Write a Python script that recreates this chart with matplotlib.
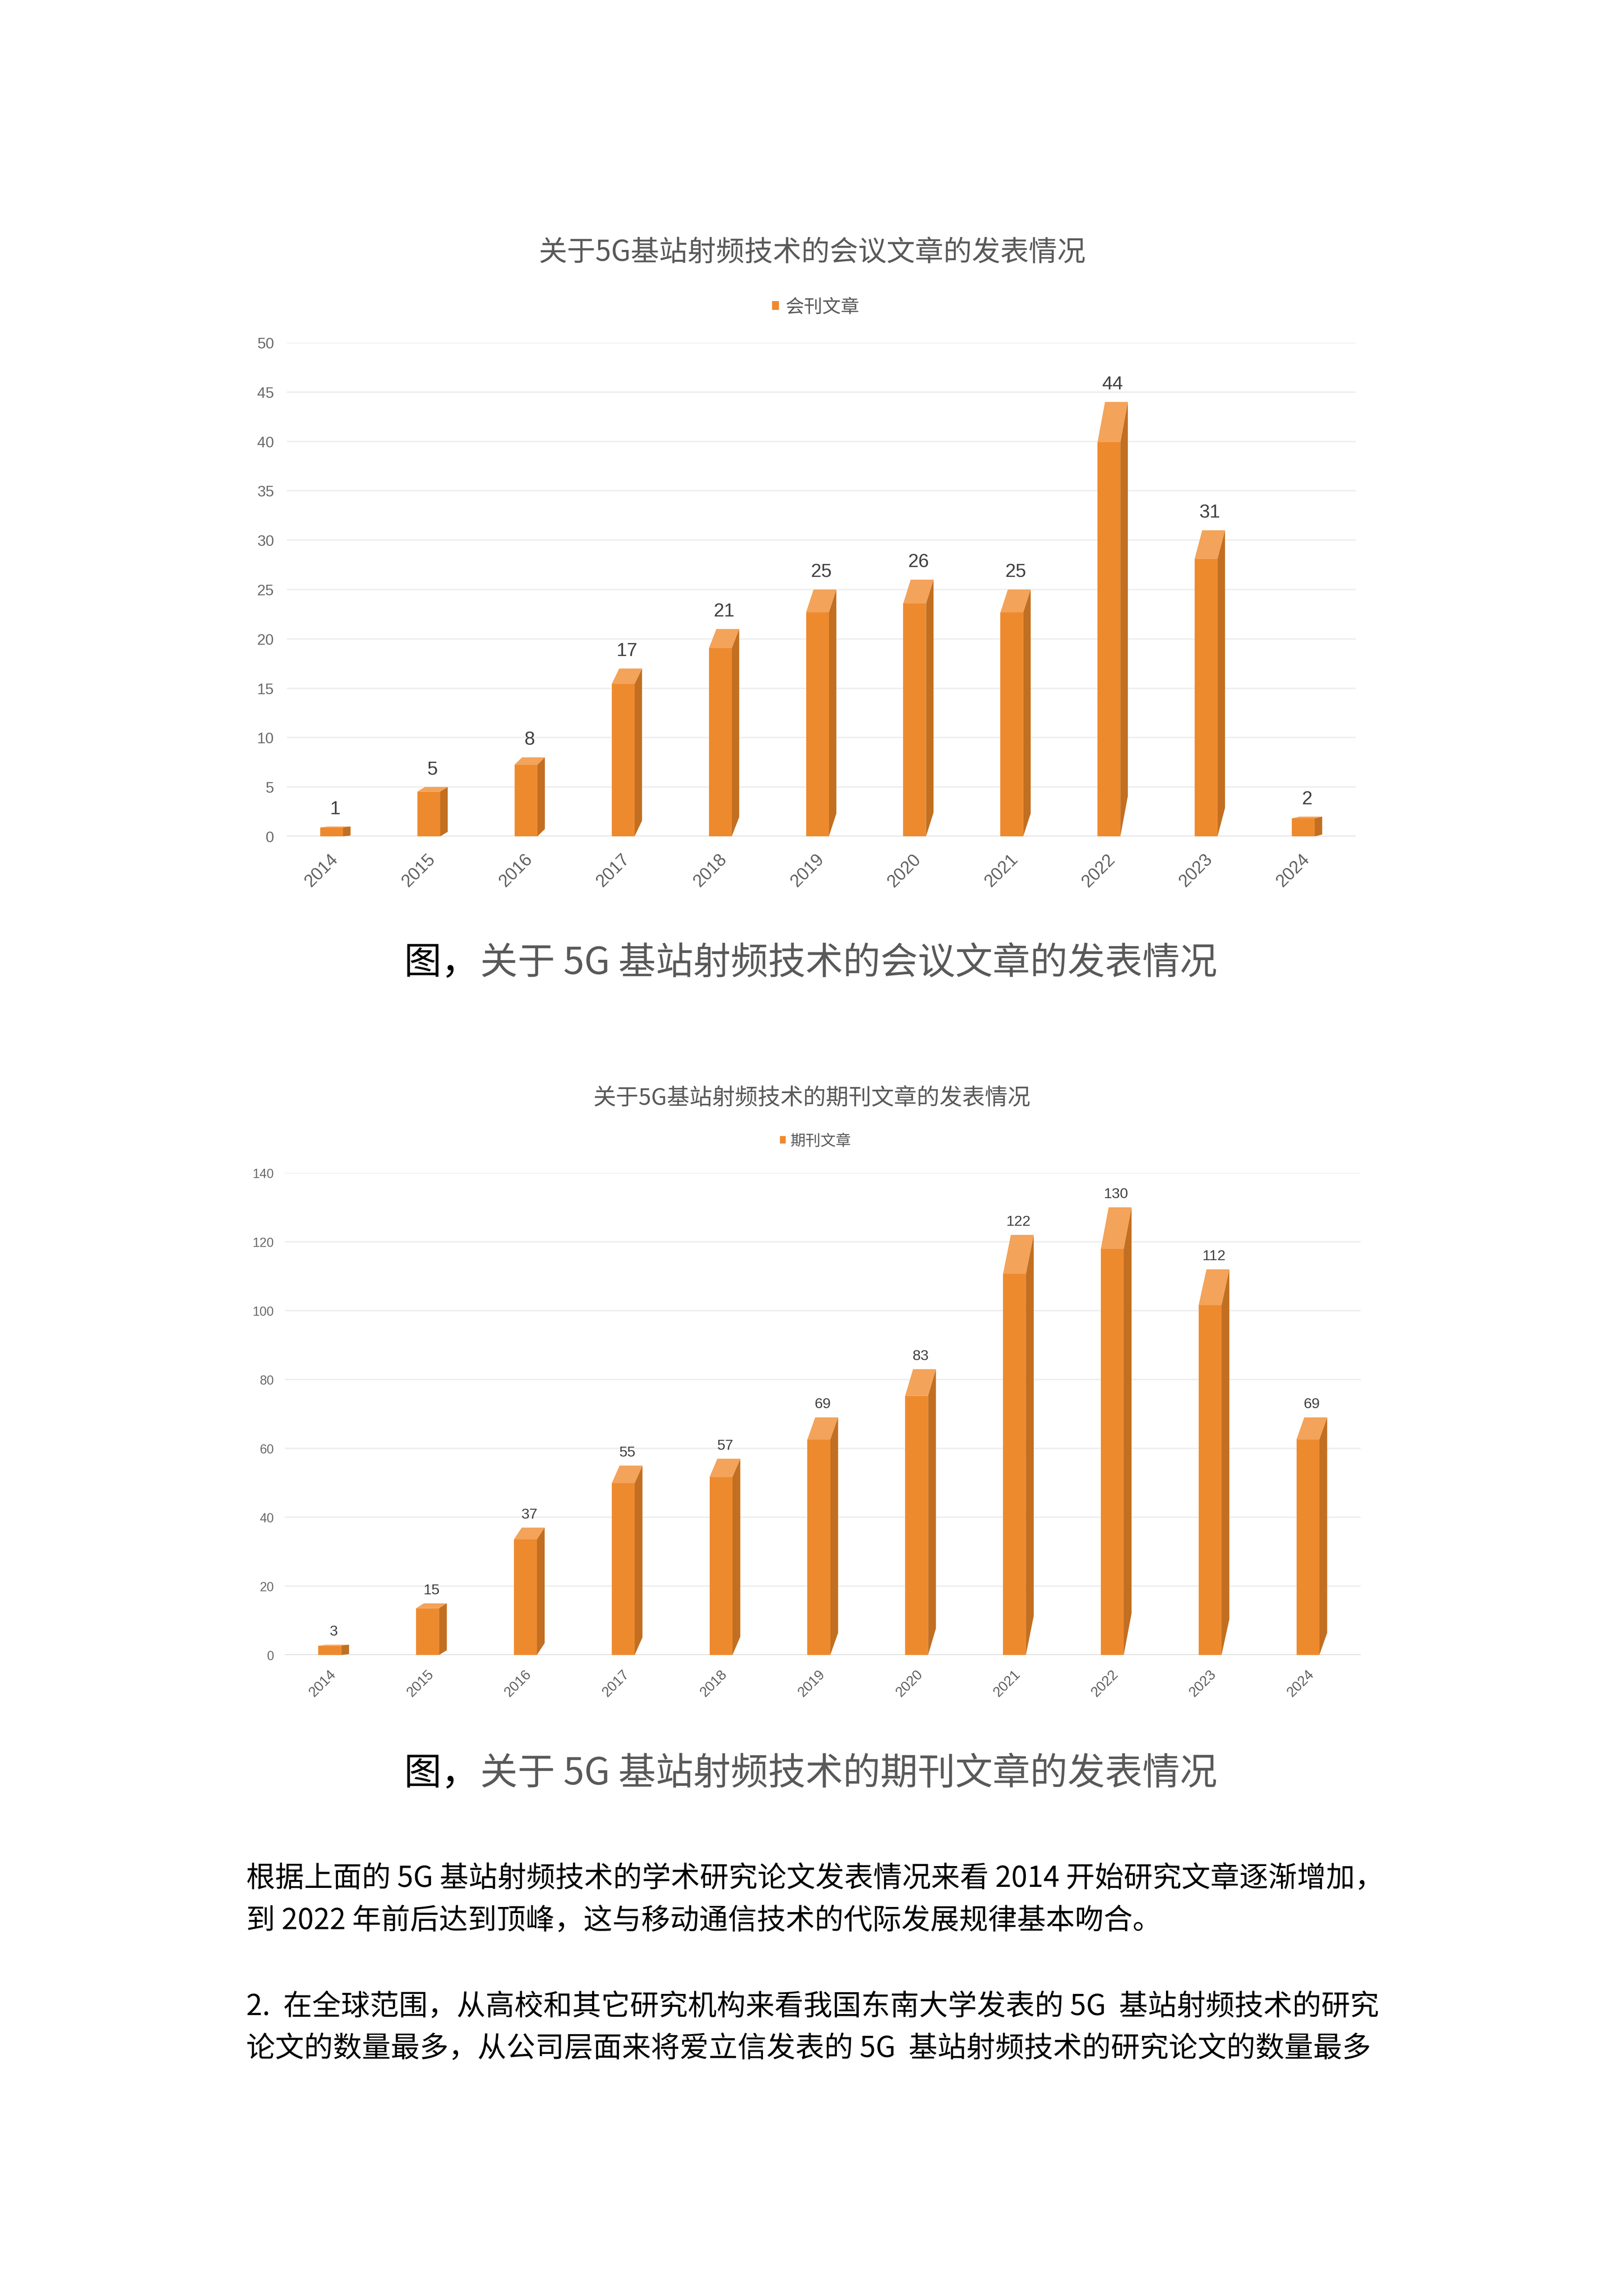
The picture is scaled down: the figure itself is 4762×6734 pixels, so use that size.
import matplotlib
matplotlib.use("Agg")
import matplotlib.pyplot as plt
from matplotlib.patches import Polygon, Rectangle, Patch
import numpy as np

plt.rcParams['font.family'] = ['Noto Sans CJK SC', 'DejaVu Sans']

# data
years = ['2014', '2015', '2016', '2017', '2018', '2019', '2020', '2021', '2022', '2023', '2024']
conf_counts = [1, 5, 8, 17, 21, 25, 26, 25, 44, 31, 2]
journal_counts = [3, 15, 37, 55, 57, 69, 83, 122, 130, 112, 69]

conf_title = '关于5G基站射频技术的会议文章的发表情况'
journal_title = '关于5G基站射频技术的期刊文章的发表情况'
conf_legend = '会刊文章'
journal_legend = '期刊文章'
caption_prefix = '图，'
conf_caption = '关于 5G 基站射频技术的会议文章的发表情况'
journal_caption = '关于 5G 基站射频技术的期刊文章的发表情况'
body_lines = [
    '根据上面的 5G 基站射频技术的学术研究论文发表情况来看 2014 开始研究文章逐渐增加，',
    '到 2022 年前后达到顶峰，这与移动通信技术的代际发展规律基本吻合。',
    '2.  在全球范围，从高校和其它研究机构来看我国东南大学发表的 5G  基站射频技术的研究',
    '论文的数量最多，从公司层面来将爱立信发表的 5G  基站射频技术的研究论文的数量最多',
]

W, H = 4762, 6735
DPI = 100
FRONT = '#EE8A2E'
TOP = '#F3A35A'
SIDE = '#C26F21'
GRID = '#EEEEEE'
BASE = '#D9D9D9'
YTICK = '#6A6A6A'
XTICK = '#5F5F5F'
LABEL = '#404040'
TITLE = '#595959'
NUM_FONT = 'Liberation Sans'

fig = plt.figure(figsize=(W / DPI, H / DPI), dpi=DPI)
fig.patch.set_facecolor('white')


def px_axes(left, right, top, bottom):
    return fig.add_axes([left / W, 1 - bottom / H, (right - left) / W, (bottom - top) / H])


def fy(y):
    return 1 - y / H


def draw_chart(ax, values, ymax, ystep, front_w, side_w, sizes, pads):
    ytick_fs, xtick_fs, val_fs = sizes
    ypad, xpad, vpad = pads
    rise = 0.093  # the back edge of each bar sits higher, as in the 3D look
    for i, v in enumerate(values):
        x0 = i - (front_w + side_w) / 2
        x1 = x0 + front_w
        x2 = x1 + side_w
        yf = v * (1 - rise)
        ax.add_patch(Polygon([(x1, 0), (x1, yf), (x2, v), (x2, v * rise)],
                             closed=True, fc=SIDE, ec='none', zorder=2))
        ax.add_patch(Polygon([(x0, yf), (x1, yf), (x2, v), (x0 + side_w, v)],
                             closed=True, fc=TOP, ec='none', zorder=2))
        ax.add_patch(Rectangle((x0, 0), front_w, yf, fc=FRONT, ec='none', zorder=3))
        ax.annotate(str(v), (i, v), xytext=(0, vpad), textcoords='offset points',
                    ha='center', va='baseline', fontsize=val_fs, color=LABEL,
                    family=NUM_FONT)

    ax.set_xlim(-0.5, len(values) - 0.5)
    ax.set_ylim(0, ymax)
    ticks = np.arange(0, ymax + 1, ystep)
    ax.set_yticks(ticks, labels=[str(t) for t in ticks], fontsize=ytick_fs,
                  color=YTICK, family=NUM_FONT)
    ax.set_xticks(range(len(years)), labels=years, rotation=45, ha='right',
                  va='center', rotation_mode='anchor', fontsize=xtick_fs,
                  color=XTICK, family=NUM_FONT)
    ax.tick_params(axis='y', length=0, pad=ypad)
    ax.tick_params(axis='x', length=0, pad=xpad)
    ax.grid(axis='y', color=GRID, lw=3)
    ax.set_axisbelow(True)
    ax.axhline(0, color=BASE, lw=3.6, zorder=1)
    for s in ax.spines.values():
        s.set_visible(False)
    ax.set_facecolor('none')


# chart 1: conference papers
ax1 = px_axes(841, 3975, 1006, 2454)
draw_chart(ax1, conf_counts, 50, 5, 0.235, 0.077, (32, 37, 40), (27, 43, 27))
fig.text(0.5, fy(740), conf_title, ha='center', va='center', fontsize=60, color=TITLE)
ax1.legend(handles=[Patch(fc=FRONT, ec='none')], labels=[conf_legend], loc='center',
           bbox_to_anchor=(2392 / W, fy(901)), bbox_transform=fig.transFigure,
           frameon=False, fontsize=39, handlelength=0.37, handleheight=0.37,
           handletextpad=0.37, borderpad=0, labelcolor=TITLE)

# chart 2: journal papers
ax2 = px_axes(835, 3990, 3441, 4855)
draw_chart(ax2, journal_counts, 140, 20, 0.234, 0.080, (27, 30, 31), (23, 36, 20))
fig.text(0.5, fy(3221), journal_title, ha='center', va='center', fontsize=48, color=TITLE)
ax2.legend(handles=[Patch(fc=FRONT, ec='none')], labels=[journal_legend], loc='center',
           bbox_to_anchor=(2391 / W, fy(3347)), bbox_transform=fig.transFigure,
           frameon=False, fontsize=32, handlelength=0.37, handleheight=0.37,
           handletextpad=0.3, borderpad=0, labelcolor=TITLE)

# figure captions: black "图，" then the grey caption text
cap_fs = 79
cap_em = cap_fs * DPI / 72
for cy, cap in [(2825, conf_caption), (5203, journal_caption)]:
    fig.text(1185 / W, fy(cy), caption_prefix, ha='left', va='center',
             fontsize=cap_fs, color='black')
    fig.text((1185 + 2 * cap_em + 4) / W, fy(cy), cap, ha='left', va='center',
             fontsize=cap_fs, color=TITLE)

# body text
for y, line in zip([5510, 5634, 5886, 6009], body_lines):
    fig.text(722 / W, fy(y), line, ha='left', va='center', fontsize=61, color='black')

fig.savefig('out.png', dpi=DPI, facecolor='white')
